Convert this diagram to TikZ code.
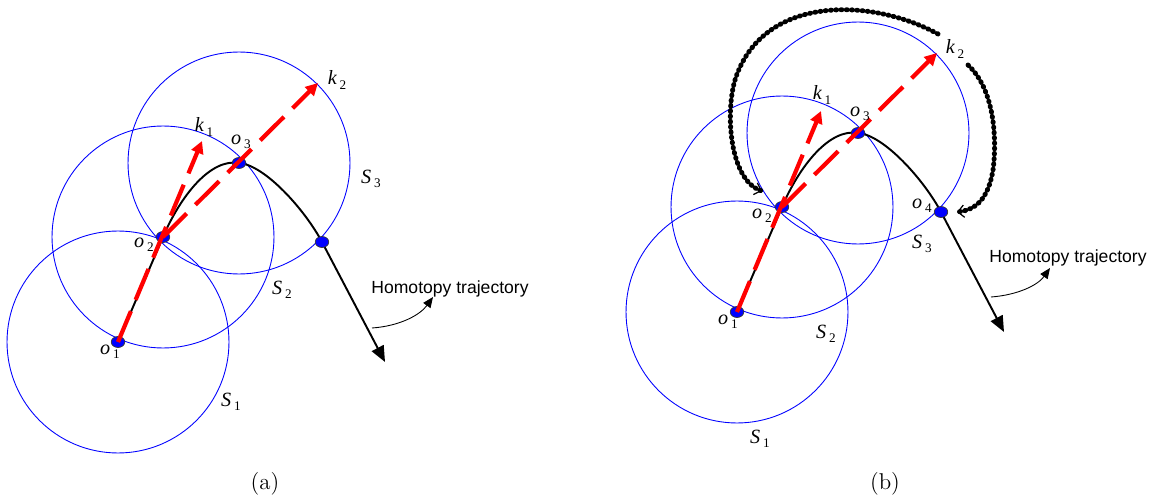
\documentclass[tikz,border=0pt]{standalone}
\usepackage{fontspec}
\usetikzlibrary{arrows.meta}
\newfontfamily\lblfont{Liberation Serif}
\newfontfamily\trajfont{Liberation Sans}
\newcommand{\plabel}[2]{{\lblfont\fontsize{11.5}{13}\selectfont\itshape #1}\,{\lblfont\fontsize{7.5}{8}\selectfont\raisebox{-2.5pt}{#2}}}
\tikzset{
  region/.style={blue, line width=0.5pt},
  homotopy/.style={line width=1.1pt, -{Triangle[length=9pt,width=7.5pt]}},
  guide/.style={red, line width=2.4pt, dash pattern=on 19pt off 7pt, -{Triangle[length=7pt,width=7pt]}},
  detour/.style={line width=2.8pt, line cap=round, dash pattern=on 0.5pt off 2.5pt, -{Straight Barb[length=3.5pt,width=7pt,line width=0.7pt]}},
  pointer/.style={line width=0.5pt, -{Triangle[length=6pt,width=5pt]}},
  waypoint/.style={fill=blue, draw=black!80, line width=0.4pt},
  trajtext/.style={font=\trajfont\fontsize{10}{12}\selectfont},
  caption/.style={font=\fontsize{13}{15}\selectfont},
}
\begin{document}
\begin{tikzpicture}[x=0.02cm, y=-0.02cm]
  \useasboundingbox (0,0) rectangle (1156,503);
  % panel (a)
  \coordinate (a-o1) at (118,342);
  \coordinate (a-o2) at (163,237);
  \coordinate (a-o3) at (239,163);
  \coordinate (a-o4) at (322,242);
  \coordinate (a-end) at (385,362);
  \coordinate (a-k1) at (202,141);
  \coordinate (a-k2) at (318,83);
  \draw[region] (a-o1) circle [radius=2.22cm];
  \draw[region] (a-o2) circle [radius=2.22cm];
  \draw[region] (a-o3) circle [radius=2.22cm];
  \draw[homotopy] (a-o1) -- (a-o2) .. controls (180,197) and (210,158) .. (a-o3)
    .. controls (265,165) and (305,210) .. (a-o4) -- (a-end);
  \foreach \p in {o1,o2,o3,o4}
    \filldraw[waypoint] (a-\p) ellipse [x radius=0.135cm, y radius=0.11cm];
  \draw[guide] (a-o1) -- (a-k1);
  \draw[guide] (a-o2) -- (a-k2);
  \node (a-lk1) at (204,127) {\plabel{k}{1}};
  \node (a-lk2) at (337,80) {\plabel{k}{2}};
  \node (a-lo1) at (110,352) {\plabel{o}{1}};
  \node (a-lo2) at (144,245) {\plabel{o}{2}};
  \node (a-lo3) at (241,142) {\plabel{o}{3}};
  \node (a-ls1) at (231,402) {\plabel{S}{1}};
  \node (a-ls2) at (282,290) {\plabel{S}{2}};
  \node (a-ls3) at (371,179) {\plabel{S}{3}};
  \node[trajtext] (a-traj) at (450,289) {Homotopy trajectory};
  \coordinate (a-ts) at (372,328);
  \coordinate (a-te) at (433,297);
  \draw[pointer] (a-ts) .. controls (400,326) and (420,315) .. (a-te);
  \node[caption] (a-cap) at (265,484) {(a)};

  % panel (b)
  \coordinate (b-o1) at (737,312);
  \coordinate (b-o2) at (782,207);
  \coordinate (b-o3) at (858,133);
  \coordinate (b-o4) at (941,212);
  \coordinate (b-end) at (1004,332);
  \coordinate (b-k1) at (821,111);
  \coordinate (b-k2) at (937,53);
  \draw[region] (b-o1) circle [radius=2.22cm];
  \draw[region] (b-o2) circle [radius=2.22cm];
  \draw[region] (b-o3) circle [radius=2.22cm];
  \draw[homotopy] (b-o1) -- (b-o2) .. controls (799,167) and (829,128) .. (b-o3)
    .. controls (884,135) and (924,180) .. (b-o4) -- (b-end);
  \foreach \p in {o1,o2,o3,o4}
    \filldraw[waypoint] (b-\p) ellipse [x radius=0.135cm, y radius=0.11cm];
  \draw[guide] (b-o1) -- (b-k1);
  \draw[guide] (b-o2) -- (b-k2);
  \coordinate (b-d1s) at (938,34);
  \coordinate (b-d1m) at (735,80);
  \coordinate (b-d1e) at (762,191);
  \coordinate (b-d2s) at (968,65);
  \coordinate (b-d2m) at (993,170);
  \coordinate (b-d2e) at (957,212);
  \draw[detour] (b-d1s) .. controls (870,-3) and (762,-5) .. (b-d1m)
    .. controls (725,114) and (730,180) .. (b-d1e);
  \draw[detour] (b-d2s) .. controls (995,90) and (997,140) .. (b-d2m)
    .. controls (988,200) and (975,210) .. (b-d2e);
  \node (b-lk1) at (822,95) {\plabel{k}{1}};
  \node (b-lk2) at (955,49) {\plabel{k}{2}};
  \node (b-lo1) at (728,322) {\plabel{o}{1}};
  \node (b-lo2) at (762,216) {\plabel{o}{2}};
  \node (b-lo3) at (860,114) {\plabel{o}{3}};
  \node (b-lo4) at (922,206) {\plabel{o}{4}};
  \node (b-ls1) at (760,439) {\plabel{S}{1}};
  \node (b-ls2) at (826,334) {\plabel{S}{2}};
  \node (b-ls3) at (922,244) {\plabel{S}{3}};
  \node[trajtext] (b-traj) at (1068,258) {Homotopy trajectory};
  \coordinate (b-ts) at (991,297);
  \coordinate (b-te) at (1050,268);
  \draw[pointer] (b-ts) .. controls (1018,295) and (1038,285) .. (b-te);
  \node[caption] (b-cap) at (885,484) {(b)};
\end{tikzpicture}
\end{document}
